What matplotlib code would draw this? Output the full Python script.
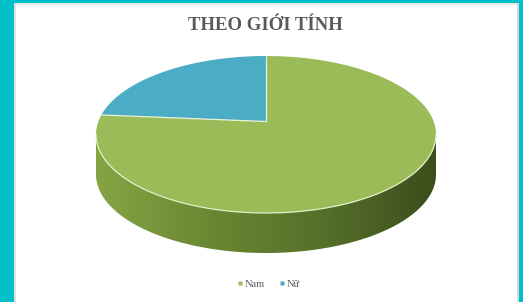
import numpy as np
import matplotlib
matplotlib.use("Agg")
import matplotlib.pyplot as plt
from matplotlib.patches import Polygon, Rectangle
from matplotlib.lines import Line2D
from matplotlib.colors import LinearSegmentedColormap

# ---- data ----
categories = ["Nam", "Nữ"]
values = [79, 21]
title = "THEO GIỚI TÍNH"

# ---- style ----
top_colors = {"Nam": "#9bbb59", "Nữ": "#4bacc6"}
side_cmap = LinearSegmentedColormap.from_list(
    "side", ["#86a444", "#6a8832", "#55702a", "#3c4d1c"])
cx, cy, a, b, depth = 266, 134.5, 170, 78.5, 40
center_off = 13  # perspective offset of pie centre

fig = plt.figure(figsize=(5.23, 3.02), dpi=100)
fig.patch.set_facecolor("#00c0ca")
L, R, T = 14, 519, 3
ax = fig.add_axes([L / 523, 0, (R - L) / 523, (302 - T) / 302])
ax.set_xlim(L, R)
ax.set_ylim(302, T)
ax.axis("off")
ax.add_patch(Rectangle((L, T), R - L, 302 - T, facecolor="white",
                       edgecolor="none", zorder=0))
ax.plot([L + 1, L + 1], [T, 302], color="#dcdcdc", lw=1.2, zorder=1)
ax.plot([L, R], [T + 1, T + 1], color="#e4e4e4", lw=1.2, zorder=1)
ax.plot([R - 1, R - 1], [T, 302], color="#d0d0d0", lw=1.2, zorder=1)


def pt(t):
    t = np.radians(t)
    return cx + a * np.cos(t), cy - b * np.sin(t)


def arc(t0, t1, n=200):
    ts = np.linspace(t0, t1, n)
    xs, ys = pt(ts)
    return np.column_stack([xs, ys])


# side (front half)
front = arc(180, 360)
back = front[::-1] + np.array([0, depth])
side_poly = Polygon(np.vstack([front, back]), closed=True,
                    facecolor="none", edgecolor="none", zorder=2)
ax.add_patch(side_poly)
grad = np.linspace(0, 1, 256).reshape(1, -1)
im = ax.imshow(grad, cmap=side_cmap, aspect="auto",
               extent=[cx - a, cx + a, cy + b + depth, cy - b],
               zorder=2, interpolation="bicubic")
im.set_clip_path(side_poly)

# top face wedges
center = np.array([cx, cy - center_off])
total = sum(values)
start = 90.0
edges = []
order = ["Nữ", "Nam"]
for cat in order:
    v = values[categories.index(cat)]
    sweep = 360.0 * v / total
    pts = arc(start, start + sweep)
    poly = np.vstack([center, pts])
    ax.add_patch(Polygon(poly, closed=True, facecolor=top_colors[cat],
                         edgecolor="none", zorder=3))
    edges.append(start)
    start += sweep

for t in edges:
    x, y = pt(t)
    ax.plot([center[0], x], [center[1], y], color="#e8f2d8", lw=0.9,
            zorder=4, solid_capstyle="butt")
fa = arc(180, 360)
ax.plot(fa[:, 0], fa[:, 1], color="#e3efc8", lw=0.9, zorder=4)

ax.text(265, 26, title, ha="center", va="center",
        fontfamily="Liberation Serif", fontweight="bold",
        fontsize=13.5, color="#5a5a5a", zorder=5)

handles = [Line2D([], [], marker="s", linestyle="none", markersize=2.5,
                  markerfacecolor=top_colors[c], markeredgecolor="none")
           for c in categories]
leg = ax.legend(handles, categories, loc="center", ncol=2, frameon=False,
                bbox_to_anchor=(268, 284), bbox_transform=ax.transData,
                prop={"family": "Liberation Serif", "size": 7.5},
                handletextpad=0.1, columnspacing=1.2, handlelength=0.8)
for txt in leg.get_texts():
    txt.set_color("#595959")

fig.savefig("out.png", dpi=100, facecolor=fig.get_facecolor())
